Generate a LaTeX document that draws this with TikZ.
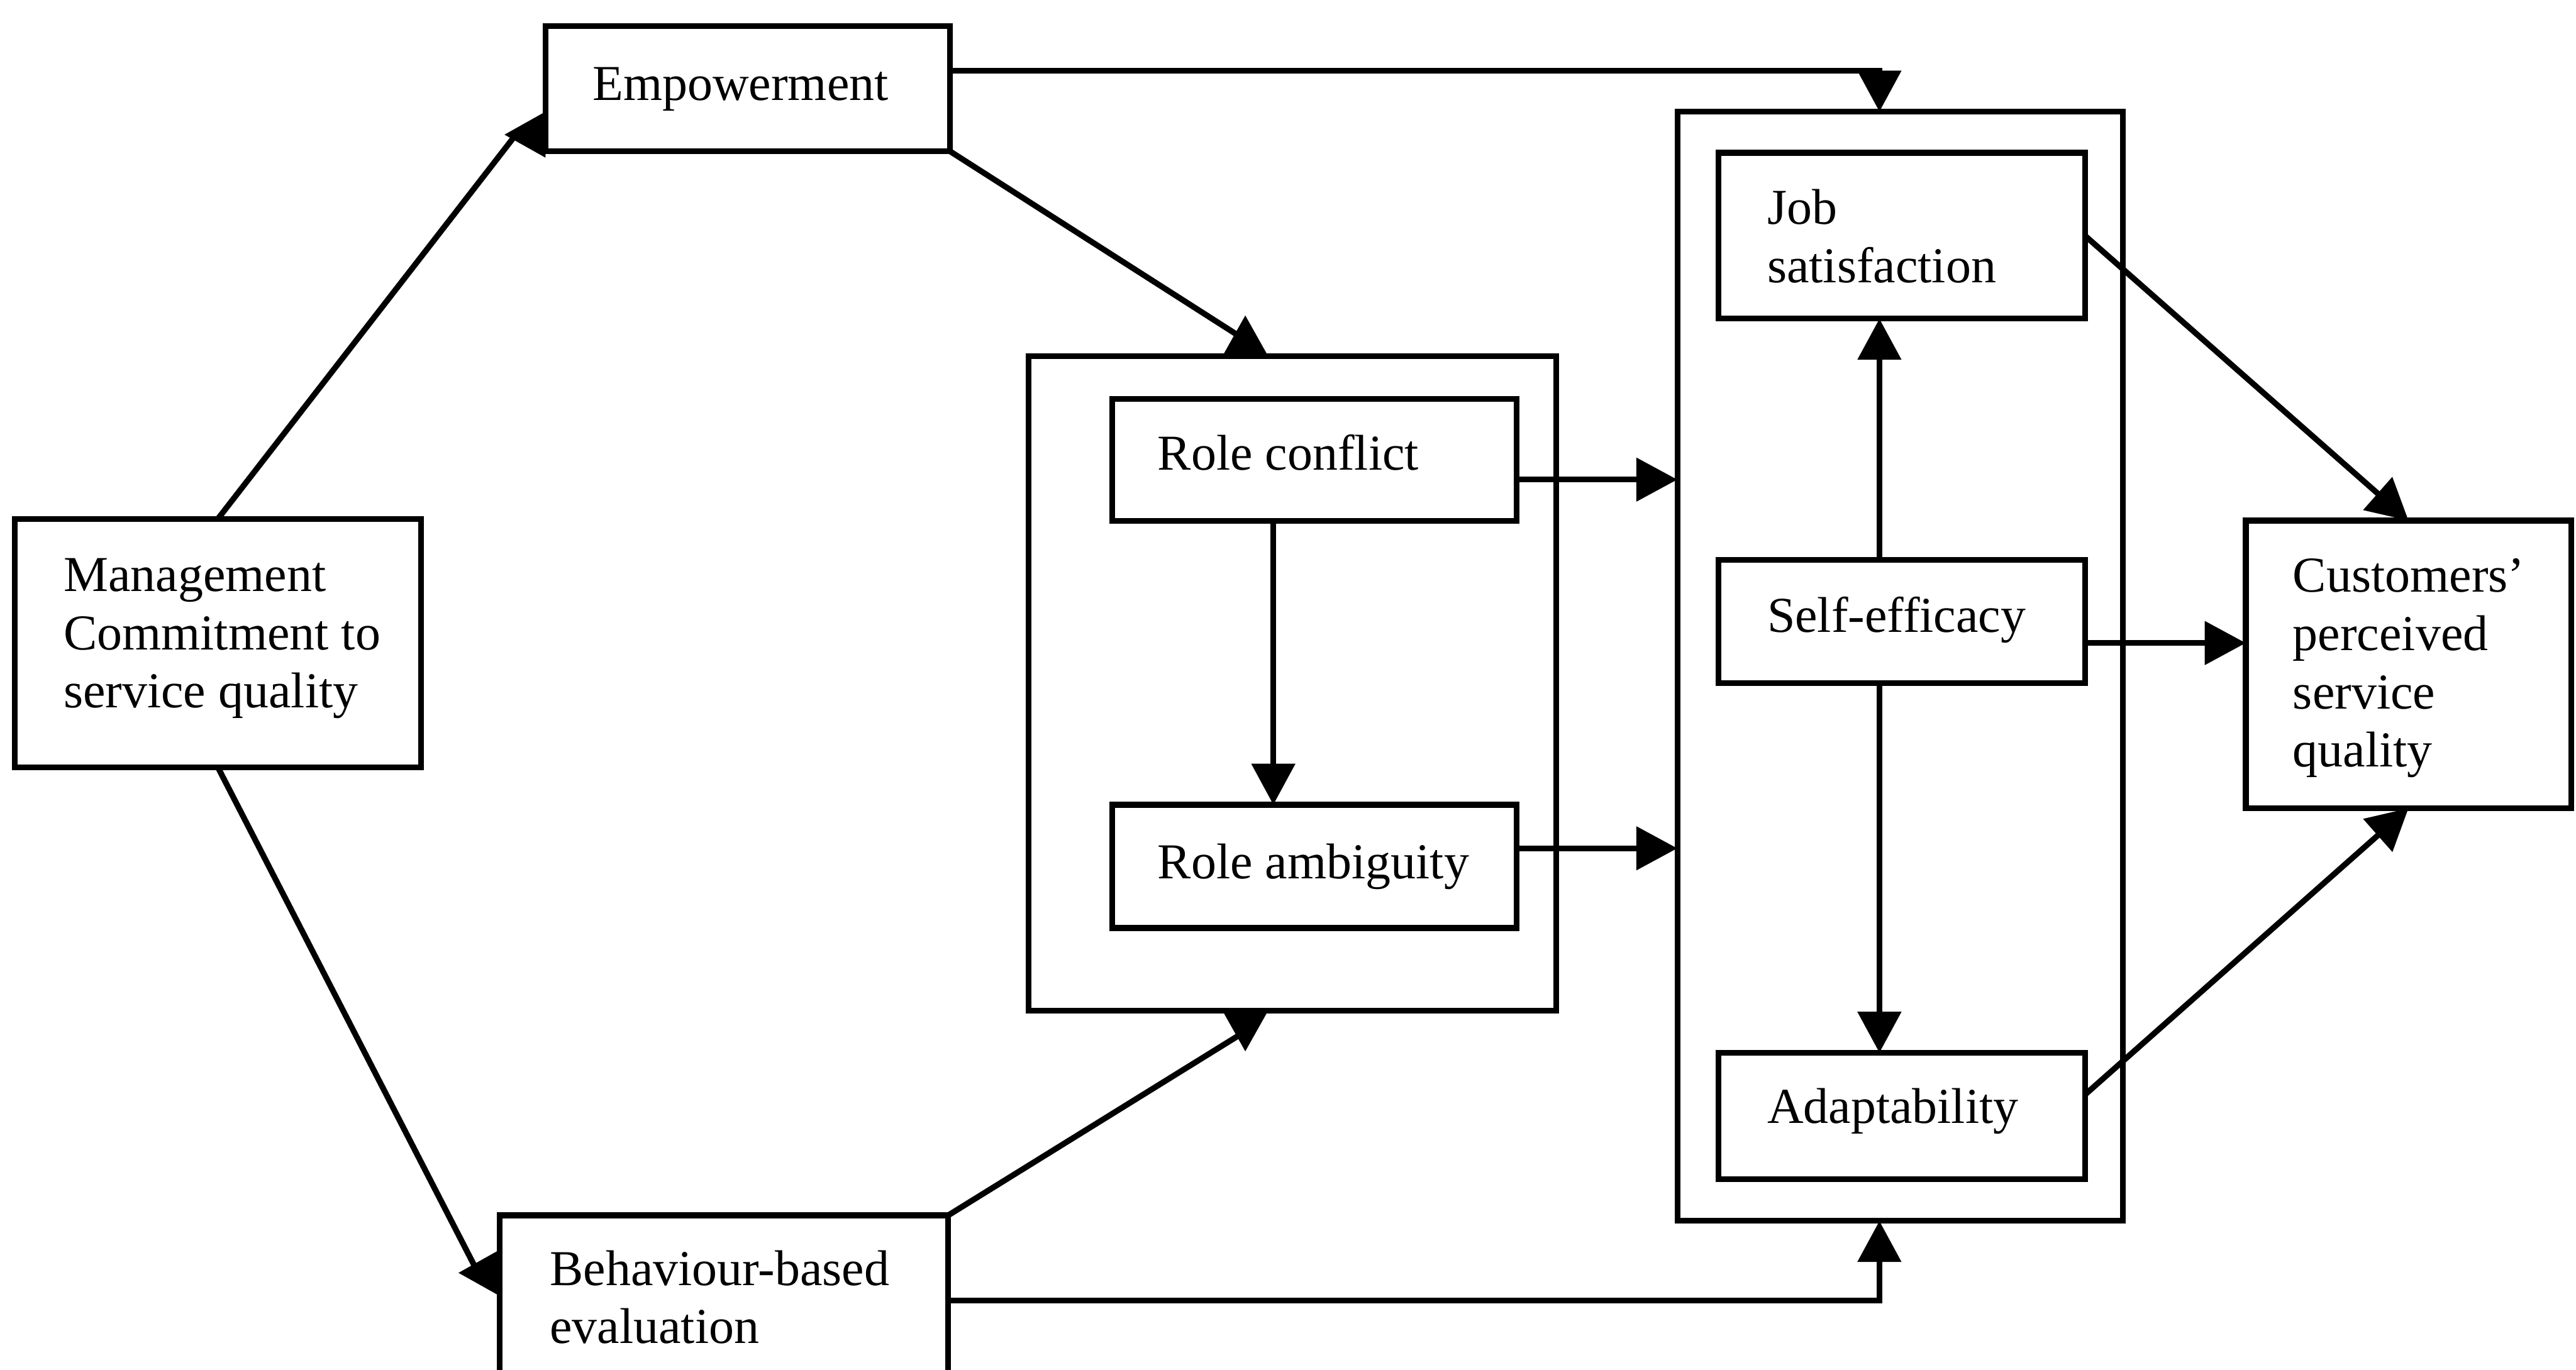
\documentclass[tikz,border=0pt]{standalone}
\usepackage{fontspec}
\setmainfont{Liberation Serif}
\usetikzlibrary{arrows.meta,calc}

\tikzset{
  box/.style={draw, line width=1pt, rectangle, inner sep=0pt, outer sep=0pt, anchor=north west},
  lbl/.style={anchor=base west, inner sep=0pt, align=left, font=\fontsize{8.7}{10.1}\selectfont},
  conn/.style={line width=1pt},
  fwd/.tip={Triangle[length=2.5mm,width=2.6mm]},
  rev/.tip={Triangle[reversed,length=2.5mm,width=2.7mm]},
}

\begin{document}
\begin{tikzpicture}[x=0.01cm, y=-0.01cm]
  \clip (0,0) rectangle (1568,834);

  % boxes
  \node[box, minimum width=2.46cm, minimum height=0.76cm] (emp)   at (332,16)   {};
  \node[box, minimum width=2.47cm, minimum height=1.51cm] (mgmt)  at (9,316)    {};
  \node[box, minimum width=2.73cm, minimum height=1.10cm] (beh)   at (304,740)  {};
  \node[box, minimum width=3.21cm, minimum height=3.98cm] (rg)    at (626,217)  {};
  \node[box, minimum width=2.46cm, minimum height=0.74cm] (rc)    at (677,243)  {};
  \node[box, minimum width=2.46cm, minimum height=0.75cm] (ra)    at (677,490)  {};
  \node[box, minimum width=2.71cm, minimum height=6.75cm] (jg)    at (1021,68)  {};
  \node[box, minimum width=2.23cm, minimum height=1.01cm] (job)   at (1046,93)  {};
  \node[box, minimum width=2.23cm, minimum height=0.75cm] (self)  at (1046,341) {};
  \node[box, minimum width=2.23cm, minimum height=0.77cm] (adapt) at (1046,641) {};
  \node[box, minimum width=1.98cm, minimum height=1.75cm] (cust)  at (1367,317) {};

  % texts (multi-line labels are placed by the baseline of their last line)
  \node[lbl] (tEmp)   at (360,61)   {Empowerment};
  \node[lbl] (tMgmt)  at (38,431)   {Management\\Commitment to\\service quality};
  \node[lbl] (tBeh)   at (334,818)  {Behaviour-based\\evaluation};
  \node[lbl] (tRC)    at (704,286)  {Role conflict};
  \node[lbl] (tRA)    at (704,535)  {Role ambiguity};
  \node[lbl] (tJob)   at (1075,172) {Job\\satisfaction};
  \node[lbl] (tSelf)  at (1075,385) {Self-efficacy};
  \node[lbl] (tAdapt) at (1075,684) {Adaptability};
  \node[lbl] (tCust)  at (1395,467) {Customers’\\perceived\\service\\quality};

  % helper points for bends and tips
  \coordinate (axis)      at (1144,0);
  \coordinate (empApex)   at (758,207);
  \coordinate (behApex)   at (758,628);
  \coordinate (mgApexTop) at (314,82);
  \coordinate (mgApexBot) at (291,775);
  \coordinate (rcdown) at ($(rc.south)+(-25,0)$);
  \coordinate (rcout)  at ($(rc.east)+(0,12)$);
  \coordinate (raout)  at ($(ra.east)+(0,-11)$);
  \coordinate (sfout)  at ($(self.east)+(0,13)$);
  \coordinate (adout)  at ($(adapt.east)+(0,-13)$);

  % management commitment
  \draw[conn,-rev] (mgmt.north) -- (mgApexTop) -- (mgApexTop -| emp.west);
  \draw[conn,-rev] (mgmt.south) -- (mgApexBot) -- (mgApexBot -| beh.west);

  % empowerment
  \draw[conn,-rev] (emp.south east) -- (empApex) -- (empApex |- rg.north);
  \draw[conn,-fwd] ($(emp.north east)+(0,27)$) -| (axis |- jg.north);

  % behaviour-based evaluation
  \draw[conn,-rev] (beh.north east) -- (behApex) -- (behApex |- rg.south);
  \draw[conn,-fwd] ($(beh.north east)+(0,52)$) -| (axis |- jg.south);

  % role stressors
  \draw[conn,-fwd] (rcdown) -- (rcdown |- ra.north);
  \draw[conn,-fwd] (rcout) -- (rcout -| jg.west);
  \draw[conn,-fwd] (raout) -- (raout -| jg.west);

  % self-efficacy
  \draw[conn,-fwd] (axis |- self.north) -- (axis |- job.south);
  \draw[conn,-fwd] (axis |- self.south) -- (axis |- adapt.north);
  \draw[conn,-fwd] (sfout) -- (sfout -| cust.west);

  % outcomes
  \draw[conn,-fwd] (job.east) -- (cust.north);
  \draw[conn,-fwd] (adout) -- (cust.south);
\end{tikzpicture}
\end{document}
